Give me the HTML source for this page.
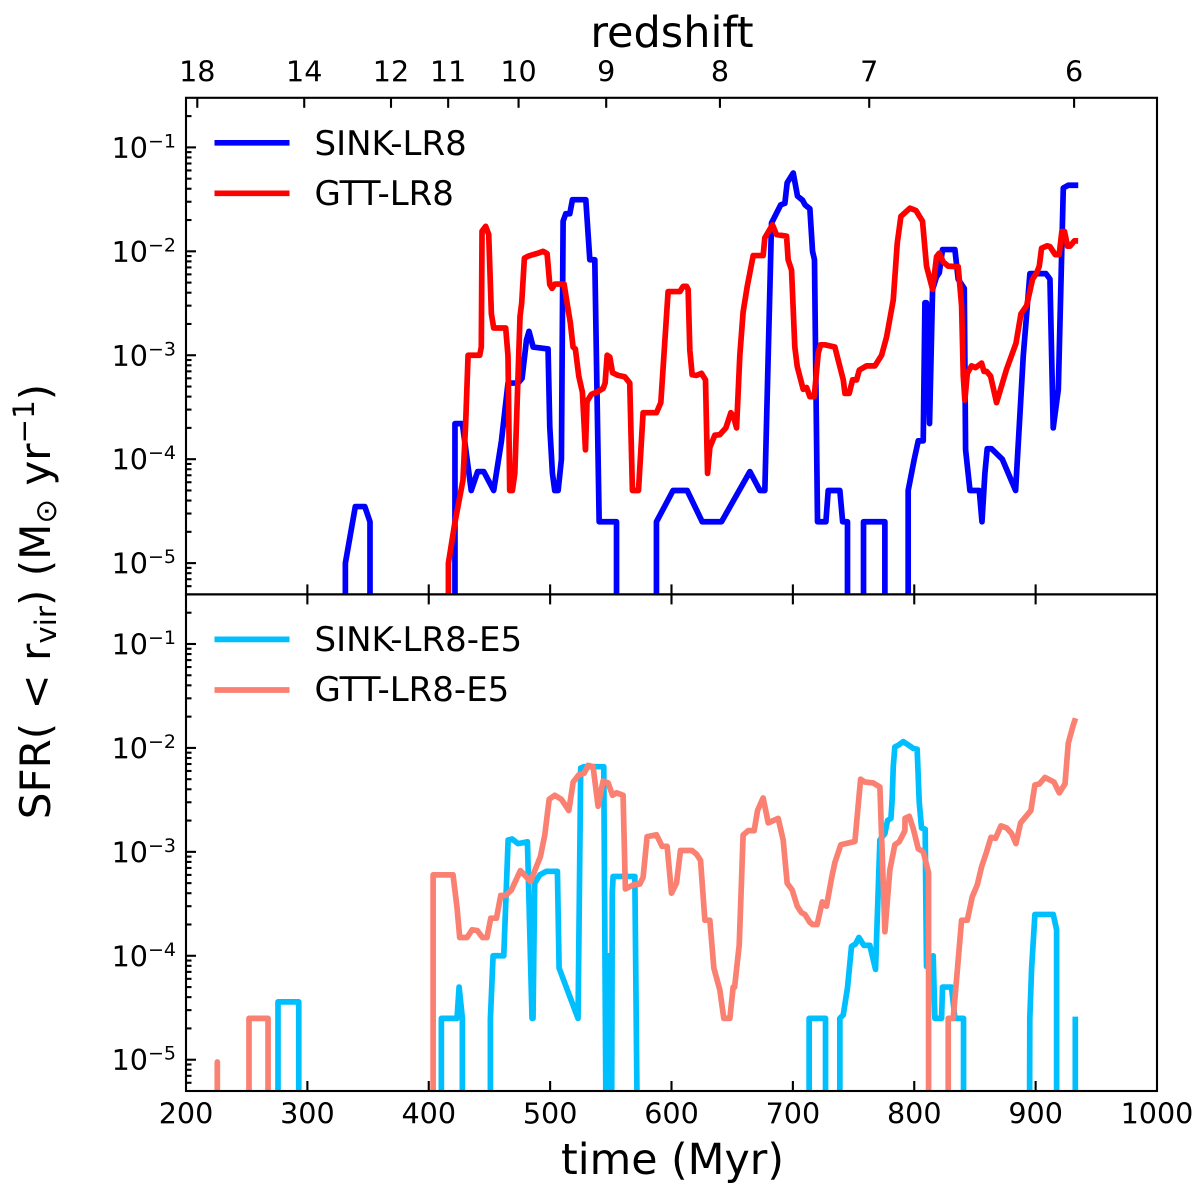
<!DOCTYPE html>
<html lang="en">
<head>
<meta charset="utf-8">
<title>SFR vs time</title>
<style>
html,body{margin:0;padding:0;background:#fff;}
svg{display:block;font-family:"DejaVu Sans","Liberation Sans",sans-serif;fill:#000;}
</style>
</head>
<body>
<svg id="chart" xmlns="http://www.w3.org/2000/svg" width="1200" height="1198" viewBox="0 0 1200 1198">
  <defs>
    <clipPath id="clip-top"><rect x="186" y="97.8" width="971" height="496.6"></rect></clipPath>
    <clipPath id="clip-bottom"><rect x="186" y="594.4" width="971" height="496.6"></rect></clipPath>
  </defs>
  <rect x="0" y="0" width="1200" height="1198" fill="#fff"></rect>
  <g id="lines-top" clip-path="url(#clip-top)" fill="none"></g>
  <g id="lines-bottom" clip-path="url(#clip-bottom)" fill="none"></g>
  <g id="ticks" stroke="#000" stroke-width="2.1"></g>
  <g id="tick-labels" font-size="28.6"></g>
  <rect x="186" y="97.8" width="971" height="496.6" fill="none" stroke="#000" stroke-width="2.1"></rect>
  <rect x="186" y="594.4" width="971" height="496.6" fill="none" stroke="#000" stroke-width="2.1"></rect>

  <text x="672" y="47" font-size="43" text-anchor="middle">redshift</text>
  <text x="672.5" y="1174" font-size="42.7" text-anchor="middle">time (Myr)</text>
  <text transform="translate(50,601.5) rotate(-90)" font-size="42" text-anchor="middle">SFR( &lt; r<tspan font-size="29.4" dy="6">vir</tspan><tspan dy="-6">) (M</tspan><tspan font-size="29.4" dy="6">⊙</tspan><tspan dy="-6"> yr</tspan><tspan font-size="29.4" dy="-16">−1</tspan><tspan dy="16">)</tspan></text>

  <g>
    <line x1="214.5" y1="142.8" x2="289.5" y2="142.8" stroke="#0000ff" stroke-width="5.7"></line>
    <text x="314.5" y="155" font-size="34">SINK-LR8</text>
    <line x1="214.5" y1="193.3" x2="289.5" y2="193.3" stroke="#ff0000" stroke-width="5.7"></line>
    <text x="314.5" y="205" font-size="34">GTT-LR8</text>
  </g>
  <g>
    <line x1="214.5" y1="639.4" x2="289.5" y2="639.4" stroke="#00bfff" stroke-width="5.7"></line>
    <text x="314.5" y="651" font-size="34">SINK-LR8-E5</text>
    <line x1="214.5" y1="690" x2="289.5" y2="690" stroke="#fa8072" stroke-width="5.7"></line>
    <text x="314.5" y="701" font-size="34">GTT-LR8-E5</text>
  </g>
</svg>

<script>
// ---- tick data ----
const timeTicks = [200, 300, 400, 500, 600, 700, 800, 900, 1000];
const redshiftLabels = ['18', '14', '12', '11', '10', '9', '8', '7', '6'];
const redshiftTimes = [209.3, 297.4, 368.9, 416, 474, 546.2, 639.9, 762.9, 931.7];
const decadeExponents = [-5, -4, -3, -2, -1];
const minorMultipliers = [2, 3, 4, 5, 6, 7, 8, 9];

// ---- series data (time in Myr, SFR in Msun/yr; 3e-6 means "off the bottom of the axis") ----
const sinkTime = [331.3,331.3,339.5,347.3,351.6,351.6,421.6,421.6,427.7,435,440.3,445.3,453.5,459.9,465.3,473.6,476.9,480.5,482.6,486,498.3,499.7,501.9,503.8,506.6,509.3,510.7,512.9,516.2,518.4,529.4,532.7,536.8,540.4,554.7,554.7,587.6,587.6,601.3,612.9,625.3,641.2,664.6,672.8,676.9,682.4,690,693.4,695.3,700.3,703.8,708,710,714,716.2,717.8,720.3,727.2,729.1,738.7,741,745,745,758.2,758.2,775.8,775.8,795,795,800,803.3,807.4,808.8,810.1,812.6,815.1,818.4,820.6,823.3,833.5,836.2,841.2,842.3,845.9,853.6,855.8,858.2,860.1,863.7,872.5,883.5,889.8,895.3,908.5,911.8,914.5,918.7,922.8,926.9,935.1];
const sinkSfr = [3e-6,1e-5,3.5e-5,3.5e-5,2.5e-5,3e-6,3e-6,2.2e-4,2.2e-4,5e-5,7.6e-5,7.6e-5,5e-5,1.5e-4,5.4e-4,5.4e-4,6e-4,1.4e-3,1.7e-3,1.2e-3,1.15e-3,2.06e-4,7.3e-5,5e-5,5e-5,1e-4,0.0195,0.023,0.023,0.0314,0.0314,8.3e-3,8.3e-3,2.5e-5,2.5e-5,3e-6,3e-6,2.5e-5,5e-5,5e-5,2.5e-5,2.5e-5,7.6e-5,5e-5,5e-5,0.0187,0.028,0.029,0.0457,0.0567,0.034,0.031,0.028,0.0257,0.01,8.3e-3,2.5e-5,2.5e-5,5e-5,5e-5,2.5e-5,2.5e-5,3e-6,3e-6,2.5e-5,2.5e-5,3e-6,3e-6,5e-5,1e-4,1.5e-4,1.5e-4,3.2e-3,3.2e-3,2.2e-4,4.3e-3,5.7e-3,6.2e-3,0.0104,0.0104,5.4e-3,4.4e-3,1.23e-4,5e-5,5e-5,2.5e-5,7.3e-5,1.26e-4,1.26e-4,1e-4,5e-5,9.8e-4,6.1e-3,6.1e-3,5.4e-3,2e-4,4.7e-4,0.0407,0.0432,0.0432];

const gttTime = [416.2,416.2,421.4,428.2,430.4,432.4,442,443.3,443.9,446.9,449.4,451.6,453.5,463.4,465.3,466.7,468.9,470.9,475.2,476.6,478.8,482.1,486,490.1,494.2,497.5,499.7,501.6,503.8,511.5,513.4,516.7,518.9,520.8,523.6,526.6,529.1,530.4,534,538.2,543.7,545.3,547,549.2,551.4,556,561.5,565.6,567.8,572.8,576.6,587.6,591.2,597.2,606.9,609.6,612.4,613.7,615.1,617,620.6,624.7,628,629.7,631.6,635.7,639.8,644.8,648.9,651,653.6,656.3,659,662.4,667.3,675.5,676.9,683.2,686.5,694.8,696.1,698.9,701.6,703.6,708.5,711.3,714,717.6,720.9,722.8,726.4,734.6,741.5,742.9,746.4,749.2,752.5,754.7,760.7,767.6,773.1,777.2,782.7,786,789,796.4,801.4,806.8,810.1,815.1,818.4,820.6,823.9,828,836.2,839,840.4,841.7,843.7,847.2,850.5,855.5,857.4,859.6,862.9,867.8,876,883.8,887.9,892.6,897.5,900.8,903,904.9,909.6,911.8,916.1,919.4,921.6,923.8,926.3,928.3,931.9,935];
const gttSfr = [3e-6,1e-5,2.4e-5,6.3e-5,2.2e-4,1e-3,1e-3,1.2e-3,0.0156,0.0174,0.0145,2.5e-3,1.83e-3,1.83e-3,9.8e-4,5e-5,5e-5,7.3e-5,2.36e-3,3.2e-3,8.6e-3,9e-3,9.3e-3,9.6e-3,1e-2,9.5e-3,4.8e-3,4.4e-3,4.84e-3,4.84e-3,3.5e-3,2.04e-3,1.2e-3,1.15e-3,6.3e-4,4.4e-4,1.23e-4,3.6e-4,4.2e-4,4.4e-4,4.8e-4,5.4e-4,1e-3,9.6e-4,6.8e-4,6.4e-4,6.2e-4,5.4e-4,5e-5,5e-5,2.8e-4,2.8e-4,3.5e-4,4.1e-3,4.1e-3,4.6e-3,4.6e-3,4.3e-3,1.12e-3,6.5e-4,6.4e-4,6.7e-4,5.8e-4,7.3e-5,1.3e-4,1.7e-4,1.72e-4,2e-4,2.8e-4,2.6e-4,2e-4,1e-3,2.6e-3,4.6e-3,9.1e-3,9.1e-3,0.0135,0.018,0.0145,0.014,8.3e-3,6.6e-3,1.2e-3,7.8e-4,4.7e-4,4.9e-4,4e-4,4e-4,1.05e-3,1.26e-3,1.26e-3,1.2e-3,5.8e-4,4.3e-4,4.3e-4,5.8e-4,5.8e-4,7.2e-4,7.9e-4,7.9e-4,1e-3,1.5e-3,3.4e-3,0.012,0.0217,0.026,0.0247,0.0195,7.2e-3,4.3e-3,8.9e-3,9.6e-3,7.9e-3,7.2e-3,7.1e-3,3e-3,6.3e-4,3.7e-4,6.7e-4,7.9e-4,7.6e-4,8.4e-4,7e-4,7e-4,6.3e-4,3.5e-4,7.3e-4,1.3e-3,2.5e-3,3e-3,5.4e-3,6.2e-3,7.2e-3,0.0107,0.0113,0.0111,9.3e-3,9.3e-3,0.0155,0.0155,0.0112,0.0112,0.0126,0.0126];

const sinkE5Time = [275.8,275.8,292.9,292.9,410.4,410.4,423.3,425,427.7,427.7,450.8,450.8,453,461.8,465.4,468.7,473.6,481.3,485.1,485.9,487.3,491.5,497,506,507.4,523,525.2,527.7,544.2,546,548.3,549,550.7,551.2,551.9,569.8,571.7,713.4,713.4,726.9,726.9,738.7,738.7,741.5,745,748.3,751.6,754.4,758.5,763.4,768.1,771.7,775.8,778,780.8,781.8,782.7,784,787.3,790.9,795,799.2,802.4,804.1,806,809,810.1,812.5,815.6,817,822.5,823.3,830.7,833.5,840.6,840.6,895,895.2,896.7,899.4,914.5,917.3,917.3,932.7,932.7];
const sinkE5Sfr = [3e-6,3.6e-5,3.6e-5,3e-6,3e-6,2.5e-5,2.5e-5,5e-5,2.5e-5,3e-6,3e-6,2.5e-5,1e-4,1e-4,1.3e-3,1.33e-3,1.2e-3,1.25e-3,2.5e-5,2.5e-5,5e-4,6e-4,6.5e-4,6.5e-4,7.6e-5,2.5e-5,6.4e-3,6.6e-3,6.6e-3,3e-6,1e-4,3e-6,3e-6,4e-4,5.8e-4,5.8e-4,3e-6,3e-6,2.5e-5,2.5e-5,3e-6,3e-6,2.5e-5,2.7e-5,4.9e-5,1.23e-4,1.3e-4,1.5e-4,1.26e-4,1.26e-4,7.4e-5,1.3e-3,1.5e-3,2e-3,2.1e-3,3.2e-3,6.6e-3,0.0102,0.0107,0.0115,0.0107,9.9e-3,9.7e-3,3e-3,1.7e-3,1.65e-3,7.9e-5,7.9e-5,1e-4,2.5e-5,2.5e-5,5e-5,5e-5,2.5e-5,2.5e-5,3e-6,3e-6,2.5e-5,7.6e-5,2.5e-4,2.5e-4,1.78e-4,3e-6,3e-6,2.6e-5];

const gttE5Time = [225.8,225.8,225.8,251.9,251.9,267.6,267.6,403.6,403.6,420,423.3,425.5,431.6,435.7,440,444.2,448,451.1,455.8,459.3,463.4,468.1,475.5,483.8,492,495.6,499.2,503.8,509.3,515.4,519,523.6,528,531.3,535.4,539.5,543.6,547.8,551.4,554.7,560.1,562,568.3,573.9,576.6,579.9,587.6,592.3,596.4,600,604.1,607.4,617,620.6,623.9,627.5,631.6,634.9,639.8,643.1,648.1,650.8,652,655.8,659,663.2,668.1,670.9,675.5,679.7,687.9,692,695.3,699.4,703.6,707.1,709.9,714,716.2,720,724.2,727.7,731.9,734.6,739.5,751.1,755.8,759.3,766.2,771.7,775.8,779.9,784,787.6,792.3,792.4,795.9,799.2,803.3,807.4,811.8,811.8,828,828,832.1,839,843.7,847.8,851.9,855.5,859.6,863.2,867,871.4,876.1,880.2,883.8,887.6,896.1,899.4,903,907.7,915.1,919.5,924.2,926.9,931,932.9];
const gttE5Sfr = [3e-6,9.5e-6,3e-6,3e-6,2.5e-5,2.5e-5,3e-6,3e-6,6e-4,6e-4,2.9e-4,1.5e-4,1.5e-4,1.78e-4,1.75e-4,1.5e-4,1.5e-4,2.3e-4,2.3e-4,3.8e-4,3.8e-4,4.3e-4,6.6e-4,5.2e-4,9e-4,1.45e-3,3.2e-3,3.5e-3,3.2e-3,2.5e-3,4.7e-3,5.5e-3,5.7e-3,6.8e-3,6.6e-3,2.75e-3,4.8e-3,4.6e-3,3.5e-3,3.7e-3,3.5e-3,4.4e-4,4.8e-4,4.9e-4,5.7e-4,1.4e-3,1.46e-3,1.13e-3,1.13e-3,4e-4,5e-4,1.03e-3,1.03e-3,9.5e-4,8.3e-4,2.2e-4,2.2e-4,7.6e-5,4.7e-5,2.5e-5,2.5e-5,5e-5,5e-5,1.27e-4,1.45e-3,1.6e-3,1.6e-3,2.5e-3,3.3e-3,1.9e-3,2.1e-3,1.3e-3,5e-4,4.3e-4,3e-4,2.6e-4,2.5e-4,2.1e-4,2e-4,2e-4,3.3e-4,3e-4,5.6e-4,7.9e-4,1.17e-3,1.26e-3,5e-3,4.7e-3,4.6e-3,4.2e-3,1.7e-4,6.7e-4,1.17e-3,1.25e-3,1.6e-3,2.1e-3,2.2e-3,1.67e-3,1.07e-3,1e-3,6.3e-4,3e-6,3e-6,2.5e-5,2.5e-5,2.2e-4,2.2e-4,3.7e-4,4.8e-4,7.2e-4,1e-3,1.38e-3,1.35e-3,1.78e-3,1.7e-3,1.5e-3,1.2e-3,1.9e-3,2.5e-3,4.4e-3,4.5e-3,5.2e-3,4.7e-3,3.7e-3,4.5e-3,0.0111,0.0166,0.0193];

// ---- axes ----
const PLOT_LEFT = 186, PLOT_WIDTH = 971, PANEL_HEIGHT = 496.6;
const TOP_PANEL_Y = 97.8, BOTTOM_PANEL_Y = 594.4;
const X_MIN = 200, X_MAX = 1000, Y_MIN = 5e-6, Y_MAX = 0.3;
const SVG_NS = 'http://www.w3.org/2000/svg';

function xScale(t) {
  return PLOT_LEFT + (t - X_MIN) / (X_MAX - X_MIN) * PLOT_WIDTH;
}
function yScale(v, panelTop) {
  const span = Math.log10(Y_MAX) - Math.log10(Y_MIN);
  return panelTop + (Math.log10(Y_MAX) - Math.log10(v)) / span * PANEL_HEIGHT;
}
function pathFrom(times, values, panelTop) {
  return times.map(function (t, i) {
    return (i ? 'L' : 'M') + xScale(t).toFixed(2) + ' ' + yScale(values[i], panelTop).toFixed(2);
  }).join('');
}
function drawLine(parentId, times, values, panelTop, color) {
  const p = document.createElementNS(SVG_NS, 'path');
  p.setAttribute('d', pathFrom(times, values, panelTop));
  p.setAttribute('stroke', color);
  p.setAttribute('stroke-width', '5.7');
  p.setAttribute('stroke-linejoin', 'round');
  p.setAttribute('stroke-linecap', 'butt');
  document.getElementById(parentId).appendChild(p);
  return p;
}
function drawTick(x1, y1, x2, y2) {
  const l = document.createElementNS(SVG_NS, 'line');
  l.setAttribute('x1', x1);
  l.setAttribute('y1', y1);
  l.setAttribute('x2', x2);
  l.setAttribute('y2', y2);
  document.getElementById('ticks').appendChild(l);
  return l;
}
function drawLabel(x, y, content, anchor) {
  const t = document.createElementNS(SVG_NS, 'text');
  t.setAttribute('x', x);
  t.setAttribute('y', y);
  t.setAttribute('text-anchor', anchor);
  t.textContent = content;
  document.getElementById('tick-labels').appendChild(t);
  return t;
}

// ---- series ----
const sinkLine = drawLine('lines-top', sinkTime, sinkSfr, TOP_PANEL_Y, '#0000ff');


const gttLine = drawLine('lines-top', gttTime, gttSfr, TOP_PANEL_Y, '#ff0000');


const sinkE5Line = drawLine('lines-bottom', sinkE5Time, sinkE5Sfr, BOTTOM_PANEL_Y, '#00bfff');


const gttE5Line = drawLine('lines-bottom', gttE5Time, gttE5Sfr, BOTTOM_PANEL_Y, '#fa8072');



// ---- x ticks on both panels ----
timeTicks.forEach(function (t) {
  const x = xScale(t);
  if (t > X_MIN && t < X_MAX) {
    const a = drawTick(x, TOP_PANEL_Y + PANEL_HEIGHT, x, TOP_PANEL_Y + PANEL_HEIGHT - 10);
    
    
    const b = drawTick(x, BOTTOM_PANEL_Y, x, BOTTOM_PANEL_Y + 10);
    
    
    const c = drawTick(x, BOTTOM_PANEL_Y + PANEL_HEIGHT, x, BOTTOM_PANEL_Y + PANEL_HEIGHT - 10);
    
    
  }
  const label = drawLabel(x, 1123.3, String(t), 'middle');
  
  
});

// ---- redshift ticks ----
redshiftTimes.forEach(function (t, i) {
  const x = xScale(t);
  const tick = drawTick(x, TOP_PANEL_Y, x, TOP_PANEL_Y + 10);
  
  
  const label = drawLabel(x, 81.5, redshiftLabels[i], 'middle');
  
  
});

// ---- y ticks on both panels ----
[TOP_PANEL_Y, BOTTOM_PANEL_Y].forEach(function (panelTop) {
  const allDecades = [-6].concat(decadeExponents);
  allDecades.forEach(function (exp) {
    if (exp >= -5) {
      const y = yScale(Math.pow(10, exp), panelTop);
      const major = drawTick(PLOT_LEFT, y, PLOT_LEFT + 10, y);
      
      
      const label = document.createElementNS(SVG_NS, 'text');
      
      
      label.setAttribute('x', '176');
      label.setAttribute('y', y + 10.5);
      label.setAttribute('text-anchor', 'end');
      const base = document.createElementNS(SVG_NS, 'tspan');
      base.textContent = '10';
      const sup = document.createElementNS(SVG_NS, 'tspan');
      sup.setAttribute('font-size', '19');
      sup.setAttribute('dy', '-10.5');
      sup.textContent = '\u2212' + Math.abs(exp);
      label.appendChild(base);
      label.appendChild(sup);
      document.getElementById('tick-labels').appendChild(label);
    }
    minorMultipliers.forEach(function (m) {
      const v = m * Math.pow(10, exp);
      if (v >= Y_MIN && v <= Y_MAX) {
        const y = yScale(v, panelTop);
        const minor = drawTick(PLOT_LEFT, y, PLOT_LEFT + 5.5, y);
        
        
      }
    });
  });
});
</script>
</body>
</html>
